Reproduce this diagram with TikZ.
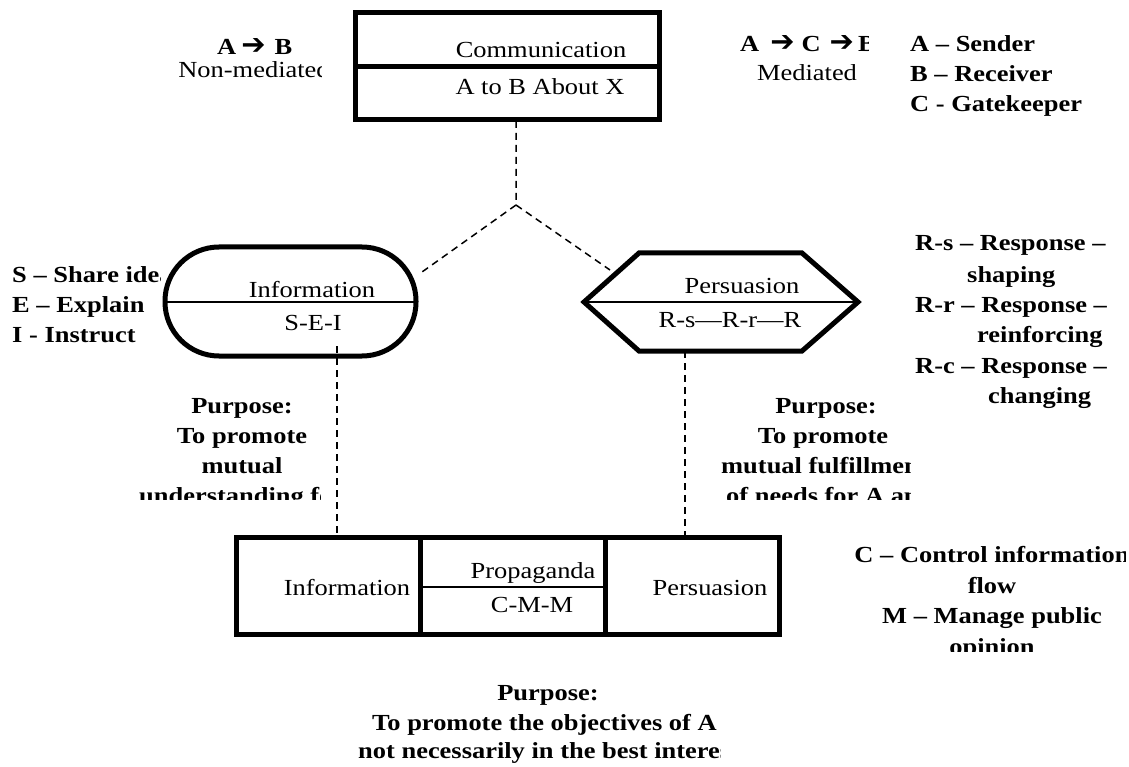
\documentclass[tikz,border=0pt]{standalone}
\usepackage{fontspec}
\setmainfont{Liberation Serif}[FakeStretch=1.15]
\newfontfamily\arrowfont{DejaVu Sans}
\newcommand{\harr}{{\arrowfont\fontsize{29}{29}\selectfont\char"2794}}
\newcommand{\lblfont}{\fontsize{23}{30}\selectfont}
\tikzset{
  frame/.style={draw, line width=5pt, line join=miter},
  sepline/.style={line width=1.8pt},
  thicksep/.style={line width=5pt},
  link/.style={line width=1.5pt, dash pattern=on 7pt off 5pt},
  lbl/.style={inner sep=0pt, anchor=base, font=\lblfont},
  blbl/.style={inner sep=0pt, anchor=base, font=\lblfont\bfseries},
  blblw/.style={blbl, anchor=base west},
}
\begin{document}
\begin{tikzpicture}[x=1pt,y=-1pt]
\useasboundingbox (0,0) rectangle (1129,767);
\fill[white] (0,0) rectangle (1129,767);

% ---------- shapes ----------
% Communication box
\draw[frame] (355,13) rectangle (659,120);
\draw[thicksep] (355,67) -- (659,67);
% Information pill
\draw[frame, rounded corners=54pt] (165,247) rectangle (416,356);
\draw[sepline] (165,302) -- (416,302);
% Persuasion hexagon
\draw[frame] (584,302) -- (639,253) -- (802,253) -- (858,302) -- (802,351) -- (639,351) -- cycle;
\draw[sepline] (584,302) -- (858,302);
% Bottom box
\draw[frame] (236,537) rectangle (779,634);
\draw[thicksep] (420,537) -- (420,634);
\draw[thicksep] (605,537) -- (605,634);
\draw[sepline] (420,587) -- (605,587);

% ---------- connectors ----------
\coordinate (commS) at (516,121);
\coordinate (J) at (516,205);
\coordinate (infoNE) at (422,272);
\coordinate (persNW) at (610,270);
\coordinate (infoS) at (337,346);
\coordinate (boxInfo) at (337,537);
\coordinate (persS) at (685,351);
\coordinate (boxPers) at (685,537);
\draw[link] (commS) -- (J) -- (infoNE);
\draw[link] (J) -- (persNW);
\draw[link] (infoS) -- (boxInfo);
\draw[link] (persS) -- (boxPers);

% ---------- texts in shapes ----------
\node[lbl] (commT) at (541,58) {Communication};
\node[lbl] (commB) at (540,95) {A to B About X};
\node[lbl] (infoT) at (312,298) {Information};
\node[lbl] (infoB) at (313,330) {S-E-I};
\node[lbl] (persT) at (742,293) {Persuasion};
\node[lbl] (persB) at (730,327) {R-s—R-r—R};
\node[lbl] (boxI) at (347,595) {Information};
\node[lbl] (boxPT) at (533,578) {Propaganda};
\node[lbl] (boxPB) at (532,612) {C-M-M};
\node[lbl] (boxR) at (710,595) {Persuasion};

% ---------- top left ----------
\node[blblw] (ab) at (217,55) {A\hspace{5pt}\harr\hspace{9pt}B};
\begin{scope}
\clip (150,60) rectangle (321,90);
\node[lbl] (nonmed) at (254,78) {Non-mediated};
\end{scope}

% ---------- top right ----------
\begin{scope}
\clip (720,25) rectangle (868,62);
\node[blblw] (acb) at (740,52) {A\hspace{11pt}\harr\hspace{7pt}C\hspace{9pt}\harr\hspace{4pt}B};
\end{scope}
\node[lbl] (med) at (807,81) {Mediated};
\node[blblw] (legA) at (910,52) {A – Sender};
\node[blblw] (legB) at (910,82) {B – Receiver};
\node[blblw] (legC) at (910,112) {C - Gatekeeper};

% ---------- left list ----------
\begin{scope}
\clip (0,255) rectangle (160,292);
\node[blblw] (sS) at (12,282) {S – Share ideas};
\end{scope}
\node[blblw] (sE) at (12,312) {E – Explain};
\node[blblw] (sI) at (12,342) {I - Instruct};

% ---------- right list ----------
\node[blblw] (rs1) at (915,251) {R-s – Response –};
\node[blblw] (rs2) at (967,282) {shaping};
\node[blblw] (rr1) at (915,312) {R-r – Response –};
\node[blblw] (rr2) at (977,342) {reinforcing};
\node[blblw] (rc1) at (915,373) {R-c – Response –};
\node[blblw] (rc2) at (988,403) {changing};

% ---------- left purpose ----------
\begin{scope}
\clip (100,390) rectangle (320,499);
\node[blbl] (lp1) at (242,413) {Purpose:};
\node[blbl] (lp2) at (242,443) {To promote};
\node[blbl] (lp3) at (242,473) {mutual};
\node[blblw] (lp4) at (139,503) {understanding for A and B};
\end{scope}

% ---------- right purpose ----------
\begin{scope}
\clip (700,390) rectangle (910,499);
\node[blbl] (rp1) at (826,413) {Purpose:};
\node[blbl] (rp2) at (823,443) {To promote};
\node[blblw] (rp3) at (721,473) {mutual fulfillment};
\node[blblw] (rp4) at (726,503) {of needs for A and B};
\end{scope}

% ---------- bottom right list ----------
\begin{scope}
\clip (820,530) rectangle (1125,651);
\node[blbl] (cm1) at (992,562) {C – Control information};
\node[blbl] (cm2) at (992,593) {flow};
\node[blbl] (cm3) at (992,623) {M – Manage public};
\node[blbl] (cm4) at (992,654) {opinion};
\end{scope}

% ---------- bottom purpose ----------
\begin{scope}
\clip (300,670) rectangle (720,767);
\node[blbl] (bp1) at (548,700) {Purpose:};
\node[blblw] (bp2) at (372,730) {To promote the objectives of A which};
\node[blblw] (bp3) at (358,758) {not necessarily in the best interests};
\end{scope}
\end{tikzpicture}
\end{document}
